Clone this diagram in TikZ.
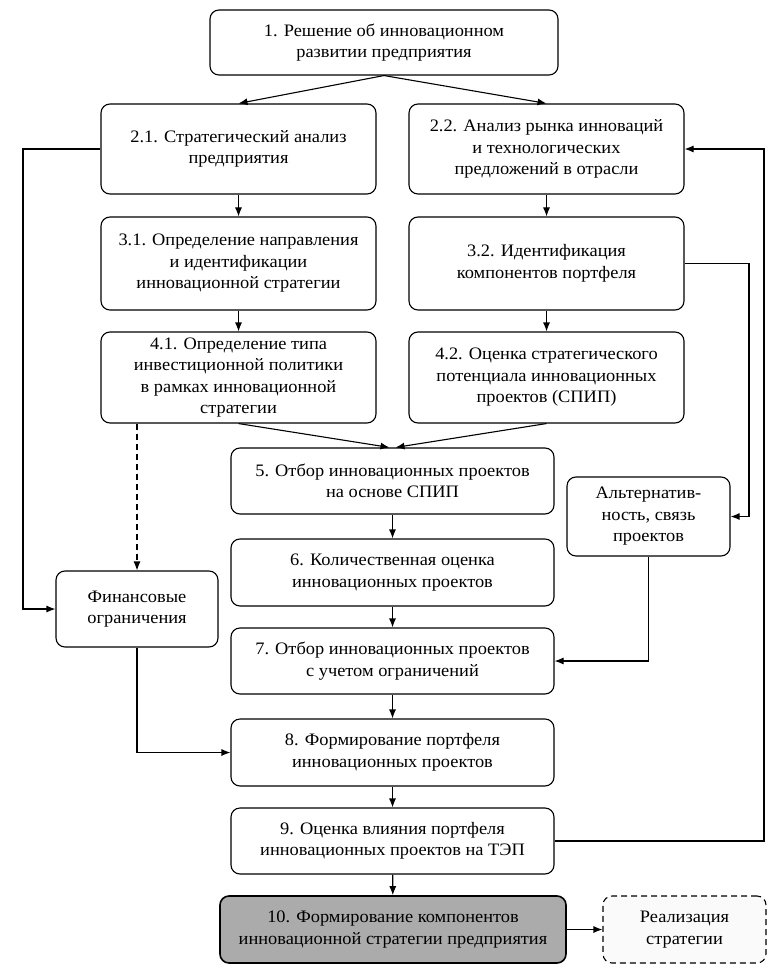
\documentclass[tikz,border=0pt]{standalone}
\usepackage{fontspec}
\setmainfont{Liberation Serif}[FakeStretch=1.05]
\usetikzlibrary{arrows.meta,calc}
\begin{document}
\begin{tikzpicture}[x=1pt,y=-1pt,
  box/.style={draw,line width=1.1pt,rounded corners=9pt,align=center,inner sep=2pt,
    font=\fontsize{17.5}{21.5}\selectfont,fill=white},
  arr/.style={line width=1.1pt,-{Latex[length=9pt,width=7pt]}},
  ln/.style={line width=1.1pt}]
\useasboundingbox (0,0) rectangle (768,968);
\node[box,minimum width=348pt,minimum height=65pt] (b1) at (384,42.5) {1. Решение об инновационном\\развитии предприятия};
\node[box,minimum width=275pt,minimum height=90pt] (b21) at (238.5,149) {2.1. Стратегический анализ\\предприятия};
\node[box,minimum width=275pt,minimum height=90pt] (b22) at (546.5,149) {2.2. Анализ рынка инноваций\\и технологических\\предложений в отрасли};
\node[box,minimum width=275pt,minimum height=93pt] (b31) at (238.5,263.5) {3.1. Определение направления\\и идентификации\\инновационной стратегии};
\node[box,minimum width=275pt,minimum height=93pt] (b32) at (546.5,263.5) {3.2. Идентификация\\компонентов портфеля};
\node[box,minimum width=275pt,minimum height=91pt] (b41) at (238.5,377.5) {4.1. Определение типа\\инвестиционной политики\\в рамках инновационной\\стратегии};
\node[box,minimum width=275pt,minimum height=91pt] (b42) at (546.5,377.5) {4.2. Оценка стратегического\\потенциала инновационных\\проектов (СПИП)};
\node[box,minimum width=323pt,minimum height=66pt] (b5) at (392.5,481) {5. Отбор инновационных проектов\\на основе СПИП};
\node[box,minimum width=323pt,minimum height=67pt] (b6) at (392.5,572.5) {6. Количественная оценка\\инновационных проектов};
\node[box,minimum width=323pt,minimum height=66pt] (b7) at (392.5,661) {7. Отбор инновационных проектов\\с учетом ограничений};
\node[box,minimum width=323pt,minimum height=67pt] (b8) at (392.5,752.5) {8. Формирование портфеля\\инновационных проектов};
\node[box,minimum width=323pt,minimum height=66pt] (b9) at (392.5,841) {9. Оценка влияния портфеля\\инновационных проектов на ТЭП};
\node[box,minimum width=346pt,minimum height=67pt,fill=black!33,line width=1.6pt] (b10) at (393,929.5) {10. Формирование компонентов\\инновационной стратегии предприятия};
\node[box,minimum width=163pt,minimum height=79pt] (alt) at (648.5,516.5) {Альтернатив-\\ность, связь\\проектов};
\node[box,minimum width=162pt,minimum height=76pt] (fin) at (137,609) {Финансовые\\ограничения};
\node[box,dashed,dash pattern=on 6pt off 4pt,minimum width=163pt,minimum height=67pt,fill=black!2] (real) at (684.5,929.5) {Реализация\\стратегии};
% connectors
\coordinate (top) at (b1.south);
\draw[arr] (top) -- (b21.north);
\draw[arr] (top) -- (b22.north);
\draw[arr] (b21) -- (b31);
\draw[arr] (b22) -- (b32);
\draw[arr] (b31) -- (b41);
\draw[arr] (b32) -- (b42);
\draw[arr] (b41.south) -- ($(b5.north)+(-3,0)$);
\draw[arr] (b42.south) -- ($(b5.north)+(3,0)$);
\draw[arr] (b5) -- (b6);
\draw[arr] (b6) -- (b7);
\draw[arr] (b7) -- (b8);
\draw[arr] (b8) -- (b9);
\draw[arr] (b9) -- (b10);
\draw[arr] (b10) -- (real);
\draw[arr,dashed,dash pattern=on 6pt off 4pt] (fin.north |- b41.south) -- (fin.north);
\coordinate (lc) at (23,149);
\draw[arr] (b21.west) -- (lc) |- (fin.west);
\coordinate (rc) at (764,841);
\draw[arr] (b9.east) -- (rc) |- (b22.east);
\coordinate (rc2) at (749,263.5);
\draw[arr] (b32.east) -- (rc2) |- (alt.east);
\draw[arr] (alt.south) |- (b7.east);
\draw[arr] (fin.south) |- (b8.west);
\end{tikzpicture}
\end{document}
